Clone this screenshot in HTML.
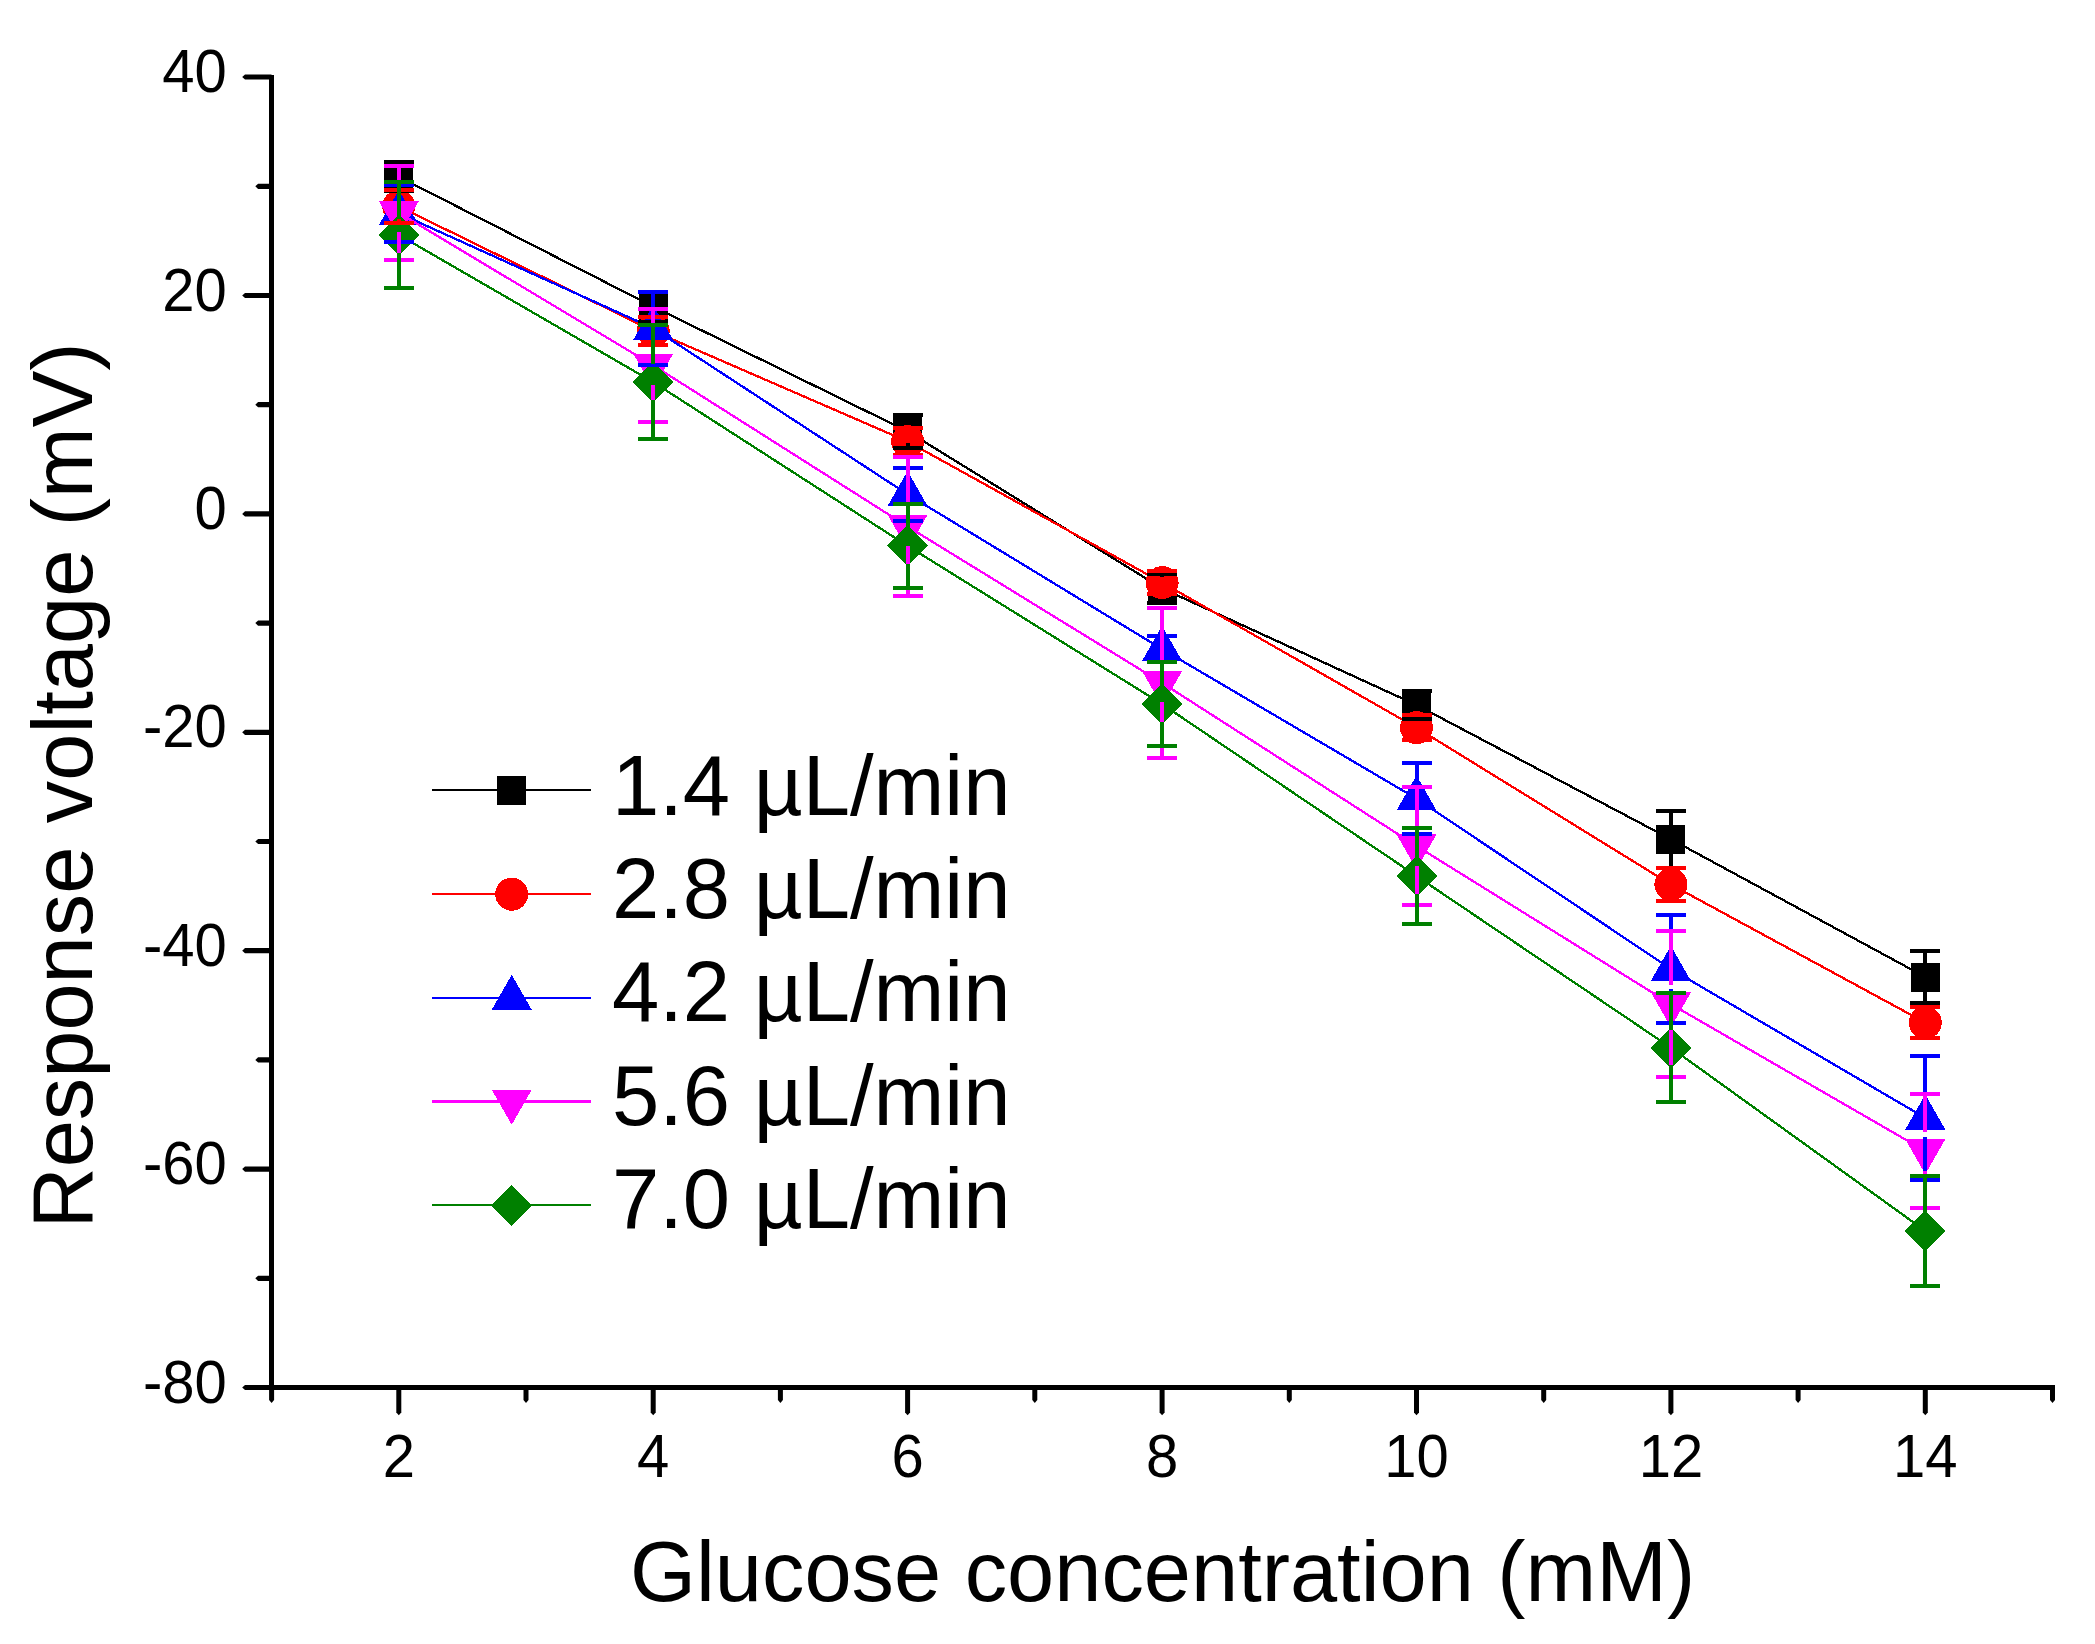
<!DOCTYPE html>
<html><head><meta charset="utf-8"><title>Response voltage vs glucose concentration</title>
<style>
html,body{margin:0;padding:0;background:#fff;}
svg{display:block;}
text{font-family:"Liberation Sans",sans-serif;fill:#000;}
.tick{font-size:58px;}
.ttl{font-size:84.8px;}
.leg{font-size:85px;}
</style></head><body>
<svg width="2095" height="1644" viewBox="0 0 2095 1644">
<rect width="2095" height="1644" fill="#fff"/>

<g stroke="#000" stroke-width="5" fill="none" shape-rendering="crispEdges">
<line x1="271.5" y1="74.5" x2="271.5" y2="1390"/>
<line x1="269" y1="1387.5" x2="2055.4" y2="1387.5"/>
</g>
<g fill="#000" stroke="none">
<polygon points="271.5,74.5 245.0,74.5 242.2,77.0 245.0,79.6 271.5,79.6"/>
<polygon points="271.5,183.7 258.1,183.7 255.3,186.3 258.1,188.9 271.5,188.9"/>
<polygon points="271.5,292.9 245.0,292.9 242.2,295.5 245.0,298.1 271.5,298.1"/>
<polygon points="271.5,402.1 258.1,402.1 255.3,404.7 258.1,407.3 271.5,407.3"/>
<polygon points="271.5,511.3 245.0,511.3 242.2,513.9 245.0,516.5 271.5,516.5"/>
<polygon points="271.5,620.5 258.1,620.5 255.3,623.1 258.1,625.7 271.5,625.7"/>
<polygon points="271.5,729.7 245.0,729.7 242.2,732.3 245.0,734.9 271.5,734.9"/>
<polygon points="271.5,838.9 258.1,838.9 255.3,841.5 258.1,844.1 271.5,844.1"/>
<polygon points="271.5,948.1 245.0,948.1 242.2,950.7 245.0,953.3 271.5,953.3"/>
<polygon points="271.5,1057.3 258.1,1057.3 255.3,1059.9 258.1,1062.5 271.5,1062.5"/>
<polygon points="271.5,1166.5 245.0,1166.5 242.2,1169.1 245.0,1171.7 271.5,1171.7"/>
<polygon points="271.5,1275.7 258.1,1275.7 255.3,1278.3 258.1,1280.9 271.5,1280.9"/>
<polygon points="271.5,1384.9 245.0,1384.9 242.2,1387.5 245.0,1390.1 271.5,1390.1"/>
<polygon points="269.1,1387.5 269.1,1400.1 271.6,1402.9 274.1,1400.1 274.1,1387.5"/>
<polygon points="396.3,1387.5 396.3,1412.4 398.8,1415.2 401.3,1412.4 401.3,1387.5"/>
<polygon points="523.5,1387.5 523.5,1400.1 526.0,1402.9 528.5,1400.1 528.5,1387.5"/>
<polygon points="650.7,1387.5 650.7,1412.4 653.2,1415.2 655.7,1412.4 655.7,1387.5"/>
<polygon points="777.9,1387.5 777.9,1400.1 780.4,1402.9 782.9,1400.1 782.9,1387.5"/>
<polygon points="905.1,1387.5 905.1,1412.4 907.6,1415.2 910.1,1412.4 910.1,1387.5"/>
<polygon points="1032.3,1387.5 1032.3,1400.1 1034.8,1402.9 1037.3,1400.1 1037.3,1387.5"/>
<polygon points="1159.6,1387.5 1159.6,1412.4 1162.1,1415.2 1164.6,1412.4 1164.6,1387.5"/>
<polygon points="1286.8,1387.5 1286.8,1400.1 1289.3,1402.9 1291.8,1400.1 1291.8,1387.5"/>
<polygon points="1414.0,1387.5 1414.0,1412.4 1416.5,1415.2 1419.0,1412.4 1419.0,1387.5"/>
<polygon points="1541.2,1387.5 1541.2,1400.1 1543.7,1402.9 1546.2,1400.1 1546.2,1387.5"/>
<polygon points="1668.4,1387.5 1668.4,1412.4 1670.9,1415.2 1673.4,1412.4 1673.4,1387.5"/>
<polygon points="1795.6,1387.5 1795.6,1400.1 1798.1,1402.9 1800.6,1400.1 1800.6,1387.5"/>
<polygon points="1922.8,1387.5 1922.8,1412.4 1925.3,1415.2 1927.8,1412.4 1927.8,1387.5"/>
<polygon points="2050.0,1387.5 2050.0,1400.1 2052.5,1402.9 2055.0,1400.1 2055.0,1387.5"/>
</g>
<g class="tick">
<text transform="translate(226.8,92.0) scale(1,1.04)" text-anchor="end">40</text>
<text transform="translate(226.8,310.5) scale(1,1.04)" text-anchor="end">20</text>
<text transform="translate(226.8,528.9) scale(1,1.04)" text-anchor="end">0</text>
<text transform="translate(226.8,747.3) scale(1,1.04)" text-anchor="end">-20</text>
<text transform="translate(226.8,965.7) scale(1,1.04)" text-anchor="end">-40</text>
<text transform="translate(226.8,1184.1) scale(1,1.04)" text-anchor="end">-60</text>
<text transform="translate(226.8,1402.5) scale(1,1.04)" text-anchor="end">-80</text>
<text transform="translate(398.8,1476.5) scale(1,1.04)" text-anchor="middle">2</text>
<text transform="translate(653.2,1476.5) scale(1,1.04)" text-anchor="middle">4</text>
<text transform="translate(907.6,1476.5) scale(1,1.04)" text-anchor="middle">6</text>
<text transform="translate(1162.1,1476.5) scale(1,1.04)" text-anchor="middle">8</text>
<text transform="translate(1416.5,1476.5) scale(1,1.04)" text-anchor="middle">10</text>
<text transform="translate(1670.9,1476.5) scale(1,1.04)" text-anchor="middle">12</text>
<text transform="translate(1925.3,1476.5) scale(1,1.04)" text-anchor="middle">14</text>
</g>
<text class="ttl" transform="translate(1162.6,1601) scale(1,1.0)" text-anchor="middle">Glucose concentration (mM)</text>
<text class="ttl" transform="translate(92,785.5) rotate(-90) scale(1,1.0)" text-anchor="middle">Response voltage (mV)</text>
<g shape-rendering="crispEdges">
<polyline points="398.8,176.8 653.2,306.6 907.6,431.4 1162.1,588.4 1416.5,705.0 1670.9,839.2 1925.3,977.0" fill="none" stroke="#000000" stroke-width="2.3"/>
<rect x="384.3" y="162.3" width="29" height="29" fill="#000000"/>
<rect x="638.7" y="292.1" width="29" height="29" fill="#000000"/>
<rect x="893.1" y="416.9" width="29" height="29" fill="#000000"/>
<rect x="1147.6" y="573.9" width="29" height="29" fill="#000000"/>
<rect x="1402.0" y="690.5" width="29" height="29" fill="#000000"/>
<rect x="1656.4" y="824.7" width="29" height="29" fill="#000000"/>
<rect x="1910.8" y="962.5" width="29" height="29" fill="#000000"/>
<polyline points="398.8,206.4 653.2,331.0 907.6,441.5 1162.1,582.6 1416.5,727.7 1670.9,884.5 1925.3,1022.6" fill="none" stroke="#FF0000" stroke-width="2.3"/>
<circle cx="398.8" cy="206.4" r="16.5" fill="#FF0000"/>
<circle cx="653.2" cy="331.0" r="16.5" fill="#FF0000"/>
<circle cx="907.6" cy="441.5" r="16.5" fill="#FF0000"/>
<circle cx="1162.1" cy="582.6" r="16.5" fill="#FF0000"/>
<circle cx="1416.5" cy="727.7" r="16.5" fill="#FF0000"/>
<circle cx="1670.9" cy="884.5" r="16.5" fill="#FF0000"/>
<circle cx="1925.3" cy="1022.6" r="16.5" fill="#FF0000"/>
<polyline points="398.8,213.3 653.2,328.3 907.6,494.3 1162.1,649.1 1416.5,798.6 1670.9,969.0 1925.3,1117.9" fill="none" stroke="#0000FF" stroke-width="2.3"/>
<polygon points="378.8,225.0 418.8,225.0 398.8,190.0" fill="#0000FF"/>
<polygon points="633.2,340.0 673.2,340.0 653.2,305.0" fill="#0000FF"/>
<polygon points="887.6,506.0 927.6,506.0 907.6,471.0" fill="#0000FF"/>
<polygon points="1142.1,660.8 1182.1,660.8 1162.1,625.8" fill="#0000FF"/>
<polygon points="1396.5,810.3 1436.5,810.3 1416.5,775.3" fill="#0000FF"/>
<polygon points="1650.9,980.7 1690.9,980.7 1670.9,945.7" fill="#0000FF"/>
<polygon points="1905.3,1129.6 1945.3,1129.6 1925.3,1094.6" fill="#0000FF"/>
<polyline points="398.8,212.8 653.2,365.3 907.6,526.5 1162.1,682.9 1416.5,846.0 1670.9,1004.1 1925.3,1151.0" fill="none" stroke="#FF00FF" stroke-width="2.3"/>
<polygon points="378.8,201.1 418.8,201.1 398.8,236.1" fill="#FF00FF"/>
<polygon points="633.2,353.6 673.2,353.6 653.2,388.6" fill="#FF00FF"/>
<polygon points="887.6,514.8 927.6,514.8 907.6,549.8" fill="#FF00FF"/>
<polygon points="1142.1,671.2 1182.1,671.2 1162.1,706.2" fill="#FF00FF"/>
<polygon points="1396.5,834.3 1436.5,834.3 1416.5,869.3" fill="#FF00FF"/>
<polygon points="1650.9,992.4 1690.9,992.4 1670.9,1027.4" fill="#FF00FF"/>
<polygon points="1905.3,1139.3 1945.3,1139.3 1925.3,1174.3" fill="#FF00FF"/>
<polyline points="398.8,234.9 653.2,382.1 907.6,545.9 1162.1,704.1 1416.5,876.0 1670.9,1047.7 1925.3,1230.9" fill="none" stroke="#008000" stroke-width="2.3"/>
<polygon points="378.3,234.9 398.8,214.4 419.3,234.9 398.8,255.4" fill="#008000"/>
<polygon points="632.7,382.1 653.2,361.6 673.7,382.1 653.2,402.6" fill="#008000"/>
<polygon points="887.1,545.9 907.6,525.4 928.1,545.9 907.6,566.4" fill="#008000"/>
<polygon points="1141.6,704.1 1162.1,683.6 1182.6,704.1 1162.1,724.6" fill="#008000"/>
<polygon points="1396.0,876.0 1416.5,855.5 1437.0,876.0 1416.5,896.5" fill="#008000"/>
<polygon points="1650.4,1047.7 1670.9,1027.2 1691.4,1047.7 1670.9,1068.2" fill="#008000"/>
<polygon points="1904.8,1230.9 1925.3,1210.4 1945.8,1230.9 1925.3,1251.4" fill="#008000"/>
<g stroke="#000000" stroke-width="4" fill="none">
<line x1="383.8" y1="162.4" x2="413.8" y2="162.4"/><line x1="383.8" y1="191.2" x2="413.8" y2="191.2"/>
<line x1="398.8" y1="162.4" x2="398.8" y2="165.5"/><line x1="398.8" y1="188.1" x2="398.8" y2="191.2"/>
<line x1="638.2" y1="291.7" x2="668.2" y2="291.7"/><line x1="638.2" y1="321.5" x2="668.2" y2="321.5"/>
<line x1="653.2" y1="291.7" x2="653.2" y2="295.3"/><line x1="653.2" y1="317.9" x2="653.2" y2="321.5"/>
<line x1="892.6" y1="414.7" x2="922.6" y2="414.7"/><line x1="892.6" y1="448.0" x2="922.6" y2="448.0"/>
<line x1="907.6" y1="414.7" x2="907.6" y2="420.1"/><line x1="907.6" y1="442.7" x2="907.6" y2="448.0"/>
<line x1="1147.1" y1="573.8" x2="1177.1" y2="573.8"/><line x1="1147.1" y1="602.9" x2="1177.1" y2="602.9"/>
<line x1="1162.1" y1="573.8" x2="1162.1" y2="577.1"/><line x1="1162.1" y1="599.6" x2="1162.1" y2="602.9"/>
<line x1="1401.5" y1="690.6" x2="1431.5" y2="690.6"/><line x1="1401.5" y1="719.4" x2="1431.5" y2="719.4"/>
<line x1="1416.5" y1="690.6" x2="1416.5" y2="693.7"/><line x1="1416.5" y1="716.3" x2="1416.5" y2="719.4"/>
<line x1="1655.9" y1="810.7" x2="1685.9" y2="810.7"/><line x1="1655.9" y1="867.7" x2="1685.9" y2="867.7"/>
<line x1="1670.9" y1="810.7" x2="1670.9" y2="827.9"/><line x1="1670.9" y1="850.5" x2="1670.9" y2="867.7"/>
<line x1="1910.3" y1="951.1" x2="1940.3" y2="951.1"/><line x1="1910.3" y1="1002.9" x2="1940.3" y2="1002.9"/>
<line x1="1925.3" y1="951.1" x2="1925.3" y2="965.7"/><line x1="1925.3" y1="988.3" x2="1925.3" y2="1002.9"/>
</g>
<g stroke="#FF0000" stroke-width="4" fill="none">
<line x1="383.8" y1="189.9" x2="413.8" y2="189.9"/><line x1="383.8" y1="222.9" x2="413.8" y2="222.9"/>
<line x1="398.8" y1="189.9" x2="398.8" y2="193.4"/><line x1="398.8" y1="219.4" x2="398.8" y2="222.9"/>
<line x1="638.2" y1="317.1" x2="668.2" y2="317.1"/><line x1="638.2" y1="344.9" x2="668.2" y2="344.9"/>
<line x1="653.2" y1="317.1" x2="653.2" y2="318.0"/><line x1="653.2" y1="344.0" x2="653.2" y2="344.9"/>
<line x1="892.6" y1="427.8" x2="922.6" y2="427.8"/><line x1="892.6" y1="455.2" x2="922.6" y2="455.2"/>
<line x1="907.6" y1="427.8" x2="907.6" y2="428.5"/><line x1="907.6" y1="454.5" x2="907.6" y2="455.2"/>
<line x1="1147.1" y1="570.9" x2="1177.1" y2="570.9"/><line x1="1147.1" y1="594.4" x2="1177.1" y2="594.4"/>
<line x1="1401.5" y1="715.2" x2="1431.5" y2="715.2"/><line x1="1401.5" y1="740.2" x2="1431.5" y2="740.2"/>
<line x1="1655.9" y1="868.0" x2="1685.9" y2="868.0"/><line x1="1655.9" y1="901.0" x2="1685.9" y2="901.0"/>
<line x1="1670.9" y1="868.0" x2="1670.9" y2="871.5"/><line x1="1670.9" y1="897.5" x2="1670.9" y2="901.0"/>
<line x1="1910.3" y1="1007.0" x2="1940.3" y2="1007.0"/><line x1="1910.3" y1="1038.2" x2="1940.3" y2="1038.2"/>
<line x1="1925.3" y1="1007.0" x2="1925.3" y2="1009.6"/><line x1="1925.3" y1="1035.6" x2="1925.3" y2="1038.2"/>
</g>
<g stroke="#0000FF" stroke-width="4" fill="none">
<line x1="383.8" y1="184.8" x2="413.8" y2="184.8"/><line x1="383.8" y1="241.8" x2="413.8" y2="241.8"/>
<line x1="398.8" y1="184.8" x2="398.8" y2="193.8"/><line x1="398.8" y1="232.8" x2="398.8" y2="241.8"/>
<line x1="638.2" y1="291.7" x2="668.2" y2="291.7"/><line x1="638.2" y1="364.9" x2="668.2" y2="364.9"/>
<line x1="653.2" y1="291.7" x2="653.2" y2="308.8"/><line x1="653.2" y1="347.8" x2="653.2" y2="364.9"/>
<line x1="892.6" y1="468.0" x2="922.6" y2="468.0"/><line x1="892.6" y1="520.6" x2="922.6" y2="520.6"/>
<line x1="907.6" y1="468.0" x2="907.6" y2="474.8"/><line x1="907.6" y1="513.8" x2="907.6" y2="520.6"/>
<line x1="1147.1" y1="636.2" x2="1177.1" y2="636.2"/><line x1="1147.1" y1="662.0" x2="1177.1" y2="662.0"/>
<line x1="1401.5" y1="763.1" x2="1431.5" y2="763.1"/><line x1="1401.5" y1="834.1" x2="1431.5" y2="834.1"/>
<line x1="1416.5" y1="763.1" x2="1416.5" y2="779.1"/><line x1="1416.5" y1="818.1" x2="1416.5" y2="834.1"/>
<line x1="1655.9" y1="915.1" x2="1685.9" y2="915.1"/><line x1="1655.9" y1="1022.9" x2="1685.9" y2="1022.9"/>
<line x1="1670.9" y1="915.1" x2="1670.9" y2="949.5"/><line x1="1670.9" y1="988.5" x2="1670.9" y2="1022.9"/>
<line x1="1910.3" y1="1055.8" x2="1940.3" y2="1055.8"/><line x1="1910.3" y1="1180.0" x2="1940.3" y2="1180.0"/>
<line x1="1925.3" y1="1055.8" x2="1925.3" y2="1098.4"/><line x1="1925.3" y1="1137.4" x2="1925.3" y2="1180.0"/>
</g>
<g stroke="#FF00FF" stroke-width="4" fill="none">
<line x1="383.8" y1="166.0" x2="413.8" y2="166.0"/><line x1="383.8" y1="259.5" x2="413.8" y2="259.5"/>
<line x1="398.8" y1="166.0" x2="398.8" y2="193.2"/><line x1="398.8" y1="232.2" x2="398.8" y2="259.5"/>
<line x1="638.2" y1="309.1" x2="668.2" y2="309.1"/><line x1="638.2" y1="421.5" x2="668.2" y2="421.5"/>
<line x1="653.2" y1="309.1" x2="653.2" y2="345.8"/><line x1="653.2" y1="384.8" x2="653.2" y2="421.5"/>
<line x1="892.6" y1="457.0" x2="922.6" y2="457.0"/><line x1="892.6" y1="596.0" x2="922.6" y2="596.0"/>
<line x1="907.6" y1="457.0" x2="907.6" y2="507.0"/><line x1="907.6" y1="546.0" x2="907.6" y2="596.0"/>
<line x1="1147.1" y1="607.8" x2="1177.1" y2="607.8"/><line x1="1147.1" y1="758.0" x2="1177.1" y2="758.0"/>
<line x1="1162.1" y1="607.8" x2="1162.1" y2="663.4"/><line x1="1162.1" y1="702.4" x2="1162.1" y2="758.0"/>
<line x1="1401.5" y1="787.1" x2="1431.5" y2="787.1"/><line x1="1401.5" y1="904.9" x2="1431.5" y2="904.9"/>
<line x1="1416.5" y1="787.1" x2="1416.5" y2="826.5"/><line x1="1416.5" y1="865.5" x2="1416.5" y2="904.9"/>
<line x1="1655.9" y1="931.1" x2="1685.9" y2="931.1"/><line x1="1655.9" y1="1077.1" x2="1685.9" y2="1077.1"/>
<line x1="1670.9" y1="931.1" x2="1670.9" y2="984.6"/><line x1="1670.9" y1="1023.6" x2="1670.9" y2="1077.1"/>
<line x1="1910.3" y1="1094.0" x2="1940.3" y2="1094.0"/><line x1="1910.3" y1="1208.1" x2="1940.3" y2="1208.1"/>
<line x1="1925.3" y1="1094.0" x2="1925.3" y2="1131.5"/><line x1="1925.3" y1="1170.5" x2="1925.3" y2="1208.1"/>
</g>
<g stroke="#008000" stroke-width="4" fill="none">
<line x1="383.8" y1="181.9" x2="413.8" y2="181.9"/><line x1="383.8" y1="287.9" x2="413.8" y2="287.9"/>
<line x1="398.8" y1="181.9" x2="398.8" y2="217.2"/><line x1="398.8" y1="252.6" x2="398.8" y2="287.9"/>
<line x1="638.2" y1="325.3" x2="668.2" y2="325.3"/><line x1="638.2" y1="438.9" x2="668.2" y2="438.9"/>
<line x1="653.2" y1="325.3" x2="653.2" y2="364.4"/><line x1="653.2" y1="399.8" x2="653.2" y2="438.9"/>
<line x1="892.6" y1="503.8" x2="922.6" y2="503.8"/><line x1="892.6" y1="588.0" x2="922.6" y2="588.0"/>
<line x1="907.6" y1="503.8" x2="907.6" y2="528.2"/><line x1="907.6" y1="563.6" x2="907.6" y2="588.0"/>
<line x1="1147.1" y1="662.2" x2="1177.1" y2="662.2"/><line x1="1147.1" y1="746.0" x2="1177.1" y2="746.0"/>
<line x1="1162.1" y1="662.2" x2="1162.1" y2="686.4"/><line x1="1162.1" y1="721.8" x2="1162.1" y2="746.0"/>
<line x1="1401.5" y1="828.0" x2="1431.5" y2="828.0"/><line x1="1401.5" y1="924.0" x2="1431.5" y2="924.0"/>
<line x1="1416.5" y1="828.0" x2="1416.5" y2="858.3"/><line x1="1416.5" y1="893.7" x2="1416.5" y2="924.0"/>
<line x1="1655.9" y1="993.2" x2="1685.9" y2="993.2"/><line x1="1655.9" y1="1102.2" x2="1685.9" y2="1102.2"/>
<line x1="1670.9" y1="993.2" x2="1670.9" y2="1030.0"/><line x1="1670.9" y1="1065.4" x2="1670.9" y2="1102.2"/>
<line x1="1910.3" y1="1176.0" x2="1940.3" y2="1176.0"/><line x1="1910.3" y1="1285.8" x2="1940.3" y2="1285.8"/>
<line x1="1925.3" y1="1176.0" x2="1925.3" y2="1213.2"/><line x1="1925.3" y1="1248.6" x2="1925.3" y2="1285.8"/>
</g>
</g>
<g shape-rendering="crispEdges">
<line x1="432" y1="790" x2="590.5" y2="790" stroke="#000000" stroke-width="2"/>
<rect x="497.2" y="775.5" width="29" height="29" fill="#000000"/>
<line x1="432" y1="894.2" x2="590.5" y2="894.2" stroke="#FF0000" stroke-width="2"/>
<circle cx="511.7" cy="894.2" r="16.5" fill="#FF0000"/>
<line x1="432" y1="998" x2="590.5" y2="998" stroke="#0000FF" stroke-width="2"/>
<polygon points="491.7,1009.7 531.7,1009.7 511.7,974.7" fill="#0000FF"/>
<line x1="432" y1="1101.5" x2="590.5" y2="1101.5" stroke="#FF00FF" stroke-width="3"/>
<polygon points="491.7,1089.8 531.7,1089.8 511.7,1124.8" fill="#FF00FF"/>
<line x1="432" y1="1205.3" x2="590.5" y2="1205.3" stroke="#008000" stroke-width="2"/>
<polygon points="491.2,1205.3 511.7,1184.8 532.2,1205.3 511.7,1225.8" fill="#008000"/>
</g>
<g class="leg">
<text transform="translate(612,815.2) scale(1,1.01)">1.4 µL/min</text>
<text transform="translate(612,918.2) scale(1,1.01)">2.8 µL/min</text>
<text transform="translate(612,1021.2) scale(1,1.01)">4.2 µL/min</text>
<text transform="translate(612,1124.5) scale(1,1.01)">5.6 µL/min</text>
<text transform="translate(612,1227.8) scale(1,1.01)">7.0 µL/min</text>
</g>
</svg></body></html>
